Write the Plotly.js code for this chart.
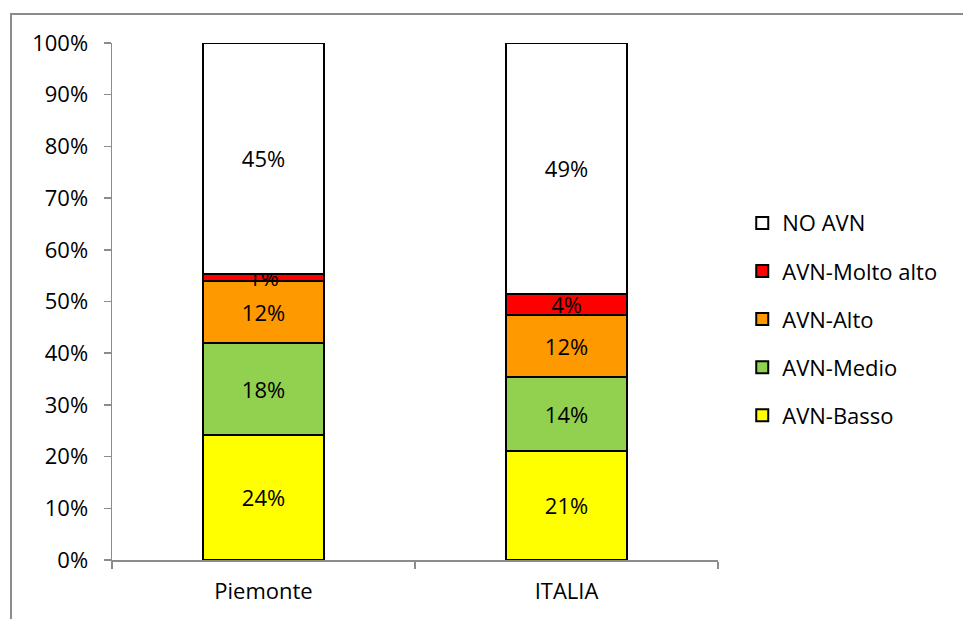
<!DOCTYPE html>
<html>
<head>
<meta charset="utf-8">
<script src="https://cdn.plot.ly/plotly-3.0.1.min.js"></script>
<style>
  html, body { margin: 0; padding: 0; background: #fff; }
  #frame { position: absolute; left: 10px; top: 13px; width: 1000px; height: 700px;
           border-left: 2px solid #8c8c8c; border-top: 2px solid #8c8c8c; }
  #chart { position: absolute; left: 0; top: 0; width: 963px; height: 619px; }
</style>
</head>
<body>
<div id="frame"></div>
<div id="chart"></div>
<script>
const categories = ['Piemonte', 'ITALIA'];
const seriesNames = ['AVN-Basso', 'AVN-Medio', 'AVN-Alto', 'AVN-Molto alto', 'NO AVN'];
const basso = [24.2, 21.1];
const medio = [17.8, 14.3];
const alto = [12.0, 12.0];
const moltoAlto = [1.4, 4.1];
const noAvn = [44.6, 48.5];
const colors = ['#FFFF00', '#92D050', '#FF9900', '#FF0000', '#FFFFFF'];
const yTicks = [0, 10, 20, 30, 40, 50, 60, 70, 80, 90, 100];

const seriesValues = [basso, medio, alto, moltoAlto, noAvn];
const FONT = '"Open Sans", "Noto Sans", sans-serif';
const FS = 22;

const traces = seriesValues.map((vals, i) => ({
  type: 'bar',
  name: seriesNames[i],
  x: categories,
  y: vals,
  width: 0.4,
  legendgroup: 'g' + i,
  legendrank: 100 - i,
  marker: { color: colors[i], line: { color: '#000000', width: 2 } },
  text: vals.map(v => Math.round(v) + '%'),
  textposition: 'inside',
  insidetextanchor: 'middle',
  constraintext: 'none',
  textangle: 0,
  textfont: { family: FONT, size: FS, color: '#000000' },
  hoverinfo: 'skip'
}));

const layout = {
  width: 963, height: 619,
  paper_bgcolor: 'rgba(0,0,0,0)',
  plot_bgcolor: 'rgba(0,0,0,0)',
  margin: { l: 112, r: 245, t: 43, b: 59 },
  barmode: 'stack',
  showlegend: true,
  uniformtext: { mode: 'show', minsize: FS },
  font: { family: FONT, size: FS, color: '#000000' },
  xaxis: {
    type: 'category',
    range: [-0.5, 1.5],
    showline: true, linecolor: '#8c8c8c', linewidth: 1.5,
    ticks: 'outside', ticklen: 7, tickcolor: '#8c8c8c', tickwidth: 1.5,
    tickson: 'boundaries',
    ticklabelstandoff: 11,
    showgrid: false, zeroline: false,
    tickfont: { family: FONT, size: FS, color: '#000000' }
  },
  yaxis: {
    range: [0, 100],
    tickvals: yTicks,
    ticktext: yTicks.map(t => t + '%'),
    showline: true, linecolor: '#8c8c8c', linewidth: 1.5,
    ticks: 'outside', ticklen: 7, tickcolor: '#8c8c8c', tickwidth: 1.5,
    ticklabelstandoff: 11,
    showgrid: false, zeroline: false,
    tickfont: { family: FONT, size: FS, color: '#000000' }
  },
  legend: {
    x: 1.04, xanchor: 'left',
    y: 0.466, yanchor: 'middle',
    traceorder: 'grouped',
    tracegroupgap: 16.5,
    itemwidth: 30,
    font: { family: FONT, size: FS, color: '#000000' },
    bgcolor: 'rgba(0,0,0,0)'
  }
};

Plotly.newPlot('chart', traces, layout, { displayModeBar: false, staticPlot: true });
</script>
</body>
</html>
